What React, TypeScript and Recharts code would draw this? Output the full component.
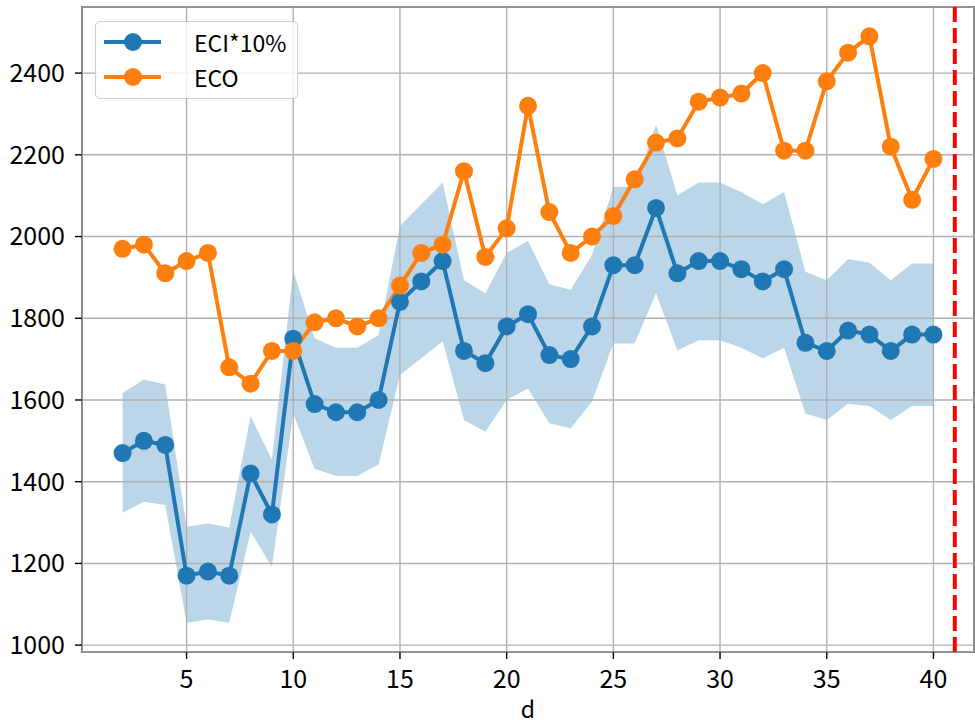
import React from 'react';
import {
  ComposedChart,
  Line,
  Area,
  XAxis,
  YAxis,
  CartesianGrid,
  ReferenceLine,
  ReferenceArea,
  Legend,
} from 'recharts';

const days = [2, 3, 4, 5, 6, 7, 8, 9, 10, 11, 12, 13, 14, 15, 16, 17, 18, 19, 20, 21, 22, 23, 24, 25, 26, 27, 28, 29, 30, 31, 32, 33, 34, 35, 36, 37, 38, 39, 40];

const eci = [1470, 1500, 1490, 1170, 1180, 1170, 1420, 1320, 1750, 1590, 1570, 1570, 1600, 1840, 1890, 1940, 1720, 1690, 1780, 1810, 1710, 1700, 1780, 1930, 1930, 2070, 1910, 1940, 1940, 1920, 1890, 1920, 1740, 1720, 1770, 1760, 1720, 1760, 1760];

const eco = [1970, 1980, 1910, 1940, 1960, 1680, 1640, 1720, 1720, 1790, 1800, 1780, 1800, 1880, 1960, 1980, 2160, 1950, 2020, 2320, 2060, 1960, 2000, 2050, 2140, 2230, 2240, 2330, 2340, 2350, 2400, 2210, 2210, 2380, 2450, 2490, 2220, 2090, 2190];

const bandLow = [1324, 1351, 1343, 1055, 1063, 1055, 1277, 1192, 1567, 1432, 1414, 1414, 1442, 1661, 1702, 1744, 1551, 1522, 1600, 1628, 1543, 1530, 1596, 1738, 1738, 1861, 1721, 1746, 1746, 1728, 1702, 1728, 1567, 1551, 1591, 1585, 1551, 1585, 1585];

const bandHigh = [1617, 1650, 1638, 1290, 1298, 1288, 1561, 1454, 1916, 1751, 1728, 1728, 1759, 2026, 2079, 2132, 1893, 1861, 1960, 1989, 1883, 1870, 1955, 2121, 2121, 2274, 2101, 2132, 2132, 2109, 2079, 2109, 1914, 1893, 1945, 1936, 1893, 1934, 1934];

const xTicks = [5, 10, 15, 20, 25, 30, 35, 40];
const yTicks = [1000, 1200, 1400, 1600, 1800, 2000, 2200, 2400];
const xDomain = [0.1, 41.9];
const yDomain = [983.25, 2561.75];
const cutoffDay = 41;

const seriesNames = ['ECI*10%', 'ECO'];
const BLUE = '#1f77b4';
const ORANGE = '#ff7f0e';
const FONT = '"Noto Sans CJK JP", "Noto Sans", sans-serif';

const data = days.map((d, i) => ({
  d,
  eci: eci[i],
  eco: eco[i],
  band: [bandLow[i], bandHigh[i]],
}));

const LegendBox = () => {
  const items = [
    { name: seriesNames[0], color: BLUE },
    { name: seriesNames[1], color: ORANGE },
  ];
  return (
    <div
      style={{
        width: 201,
        height: 76,
        border: '1.4px solid #d0d0d0',
        borderRadius: 5,
        background: 'rgba(255,255,255,0.8)',
        position: 'relative',
        boxSizing: 'content-box',
      }}
    >
      {items.map((it, i) => (
        <div key={it.name} style={{ position: 'absolute', left: 0, top: 2 + i * 35, height: 36, width: 201 }}>
          <svg width={80} height={36} style={{ position: 'absolute', left: 0, top: 0 }}>
            <line x1={8} y1={18} x2={65} y2={18} stroke={it.color} strokeWidth={4} />
            <circle cx={37} cy={18} r={9} fill={it.color} />
          </svg>
          <span
            style={{
              position: 'absolute',
              left: 98,
              top: 0,
              lineHeight: '36px',
              fontSize: 23,
              fontFamily: FONT,
              color: '#000',
              whiteSpace: 'nowrap',
            }}
          >
            {it.name}
          </span>
        </div>
      ))}
    </div>
  );
};

export default function App() {
  return (
    <div style={{ position: 'absolute', left: 0, top: 0, width: 975, height: 725, background: '#fff' }}>
      <ComposedChart
        width={975}
        height={725}
        data={data}
        margin={{ top: 7, right: 1, bottom: 0, left: 0 }}
      >
        <XAxis
          dataKey="d"
          type="number"
          domain={xDomain}
          ticks={xTicks}
          allowDataOverflow
          axisLine={false}
          tickLine={{ stroke: '#000', strokeWidth: 1.4 }}
          tickSize={7}
          tickMargin={11}
          height={73}
          tick={{ fill: '#000', fontSize: 25, fontFamily: FONT }}
          label={{ value: 'd', position: 'insideBottom', offset: 7, fill: '#000', fontSize: 23, fontFamily: FONT }}
        />
        <YAxis
          type="number"
          domain={yDomain}
          ticks={yTicks}
          allowDataOverflow
          axisLine={false}
          tickLine={{ stroke: '#000', strokeWidth: 1.4 }}
          tickSize={7}
          tickMargin={10}
          width={82}
          tick={{ fill: '#000', fontSize: 25, fontFamily: FONT }}
        />
        <Area
          dataKey="band"
          type="linear"
          stroke="none"
          fill={BLUE}
          fillOpacity={0.3}
          isAnimationActive={false}
          activeDot={false}
          dot={false}
        />
        <CartesianGrid stroke="#b0b0b0" strokeWidth={1.4} zIndex={150} />
        <Line
          dataKey="eci"
          name={seriesNames[0]}
          type="linear"
          stroke={BLUE}
          strokeWidth={4}
          dot={{ r: 9, fill: BLUE, stroke: 'none' }}
          activeDot={false}
          isAnimationActive={false}
        />
        <Line
          dataKey="eco"
          name={seriesNames[1]}
          type="linear"
          stroke={ORANGE}
          strokeWidth={4}
          dot={{ r: 9, fill: ORANGE, stroke: 'none' }}
          activeDot={false}
          isAnimationActive={false}
        />
        <ReferenceLine x={cutoffDay} stroke="#ff0000" strokeWidth={4} strokeDasharray="15 6" />
        <ReferenceArea
          x1={xDomain[0]}
          x2={xDomain[1]}
          y1={yDomain[0]}
          y2={yDomain[1]}
          fill="none"
          fillOpacity={0}
          stroke="#000"
          strokeWidth={1.6}
          ifOverflow="visible"
        />
        <Legend
          layout="vertical"
          align="center"
          verticalAlign="middle"
          content={() => <LegendBox />}
          wrapperStyle={{ position: 'absolute', left: 95, top: 21, width: 204, height: 79 }}
        />
      </ComposedChart>
    </div>
  );
}
